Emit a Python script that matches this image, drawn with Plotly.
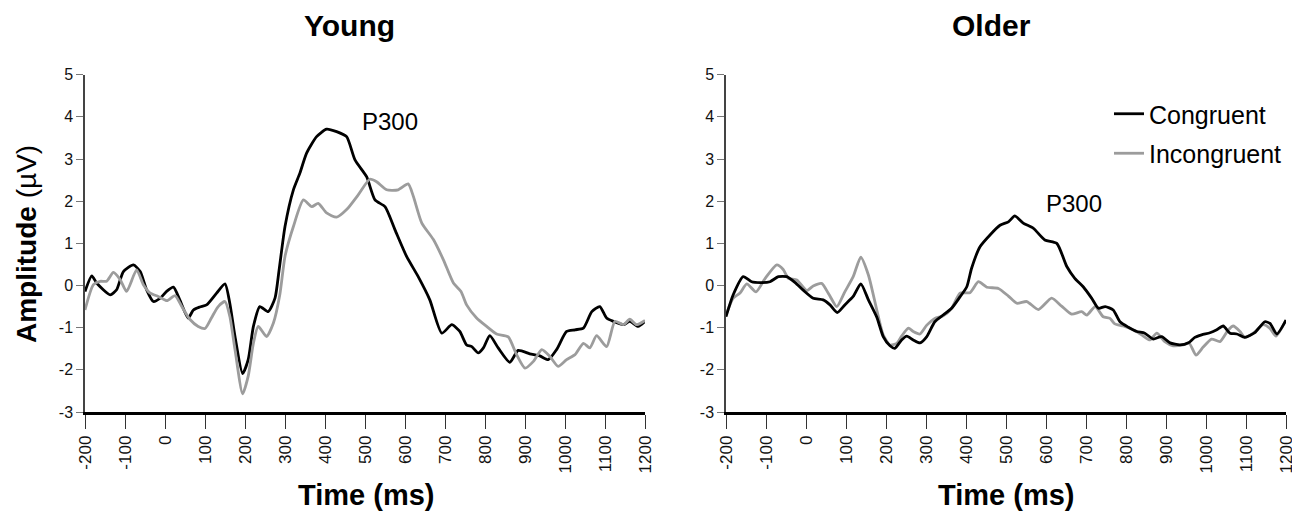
import plotly.graph_objects as go

# ERP waveforms (time in ms, amplitude in microvolts)
young_con_t = [-200, -183, -171, -137, -121, -104, -79, -62, -46, -29, -12, 4, 21, 37, 58, 71, 87,
               104, 129, 150, 162, 175, 194, 208, 221, 237, 258, 275, 285, 300, 321, 337, 354,
               379, 404, 429, 454, 475, 504, 525, 550, 575, 604, 633, 662, 692, 717, 737, 754,
               767, 783, 796, 812, 833, 862, 883, 912, 937, 958, 979, 1004, 1025, 1046, 1067,
               1087, 1104, 1121, 1146, 1162, 1183, 1200]
young_con_v = [-0.14, 0.23, 0.06, -0.22, -0.10, 0.33, 0.49, 0.33, -0.10, -0.38, -0.30, -0.14, -0.04,
               -0.34, -0.77, -0.58, -0.51, -0.46, -0.18, 0.04, -0.42, -1.21, -2.09, -1.76, -0.97,
               -0.50, -0.62, -0.30, 0.35, 1.40, 2.27, 2.66, 3.14, 3.53, 3.71, 3.65, 3.53, 2.98,
               2.58, 2.03, 1.87, 1.32, 0.69, 0.21, -0.34, -1.13, -0.93, -1.09, -1.41, -1.45, -1.60,
               -1.48, -1.19, -1.48, -1.82, -1.54, -1.62, -1.67, -1.76, -1.52, -1.09, -1.05, -1.01,
               -0.62, -0.50, -0.77, -0.85, -0.93, -0.85, -0.97, -0.85]

young_inc_t = [-200, -179, -162, -146, -129, -112, -96, -71, -54, -37, -17, 5, 25, 42, 62, 83, 100,
               116, 133, 150, 162, 175, 194, 208, 221, 233, 254, 271, 287, 300, 321, 346, 367,
               383, 404, 429, 454, 483, 512, 529, 554, 583, 608, 621, 642, 671, 696, 721, 740,
               754, 779, 804, 829, 858, 879, 900, 921, 942, 962, 983, 1004, 1025, 1046, 1062,
               1079, 1104, 1125, 1146, 1162, 1179, 1200]
young_inc_v = [-0.58, 0.02, 0.10, 0.10, 0.31, 0.14, -0.14, 0.37, 0.02, -0.18, -0.26, -0.36, -0.24,
               -0.50, -0.80, -0.97, -1.02, -0.77, -0.50, -0.38, -0.73, -1.52, -2.57, -2.15, -1.37,
               -0.97, -1.21, -0.89, -0.22, 0.69, 1.40, 2.03, 1.87, 1.95, 1.72, 1.62, 1.80, 2.15,
               2.52, 2.46, 2.27, 2.27, 2.41, 2.11, 1.48, 1.09, 0.61, 0.06, -0.14, -0.46, -0.77,
               -0.97, -1.15, -1.22, -1.64, -1.96, -1.80, -1.52, -1.68, -1.92, -1.76, -1.64, -1.37,
               -1.48, -1.19, -1.45, -0.85, -0.93, -0.80, -0.93, -0.83]

older_con_t = [-200, -182, -157, -136, -111, -90, -69, -48, -27, -7, 18, 43, 60, 78, 97, 118, 137,
               156, 177, 193, 210, 222, 239, 252, 268, 285, 302, 322, 343, 364, 385, 402, 414,
               435, 460, 485, 506, 522, 543, 568, 597, 627, 652, 672, 693, 714, 731, 748, 768,
               785, 806, 827, 847, 868, 889, 910, 935, 956, 972, 989, 1010, 1027, 1043, 1060,
               1077, 1097, 1122, 1147, 1160, 1177, 1200]
older_con_v = [-0.74, -0.22, 0.21, 0.09, 0.07, 0.09, 0.21, 0.21, 0.07, -0.11, -0.30, -0.34, -0.46,
               -0.64, -0.46, -0.26, 0.04, -0.34, -0.75, -1.21, -1.43, -1.49, -1.29, -1.20, -1.29,
               -1.36, -1.21, -0.86, -0.70, -0.54, -0.27, -0.03, 0.41, 0.92, 1.20, 1.43, 1.51, 1.65,
               1.48, 1.36, 1.08, 1.00, 0.45, 0.17, -0.03, -0.30, -0.54, -0.50, -0.58, -0.86, -0.99,
               -1.09, -1.13, -1.27, -1.21, -1.36, -1.41, -1.36, -1.23, -1.17, -1.12, -1.05, -0.96,
               -1.13, -1.15, -1.23, -1.12, -0.86, -0.90, -1.15, -0.82]

older_inc_t = [-200, -182, -165, -148, -125, -102, -73, -57, -44, -23, 2, 18, 39, 58, 77, 97, 118,
               137, 156, 177, 193, 210, 227, 239, 256, 268, 285, 302, 322, 343, 364, 385, 410,
               431, 452, 481, 506, 527, 552, 581, 614, 639, 664, 689, 702, 723, 743, 760, 772,
               793, 818, 839, 860, 877, 897, 918, 943, 958, 975, 993, 1014, 1035, 1056, 1068,
               1085, 1097, 1118, 1143, 1160, 1175, 1200]
older_inc_v = [-0.70, -0.30, -0.18, 0.04, -0.15, 0.17, 0.49, 0.38, 0.17, 0.13, -0.12, -0.01, 0.05,
               -0.22, -0.50, -0.15, 0.21, 0.67, 0.25, -0.58, -1.17, -1.41, -1.37, -1.20, -1.01,
               -1.09, -1.15, -0.94, -0.78, -0.72, -0.54, -0.18, -0.17, 0.09, -0.04, -0.07, -0.25,
               -0.42, -0.38, -0.57, -0.30, -0.49, -0.68, -0.62, -0.70, -0.50, -0.74, -0.78, -0.91,
               -0.96, -1.05, -1.17, -1.29, -1.13, -1.33, -1.43, -1.41, -1.37, -1.65, -1.46, -1.27,
               -1.33, -1.05, -0.96, -1.09, -1.23, -1.13, -0.93, -1.02, -1.20, -0.82]

x_ticks = list(range(-200, 1201, 100))
y_ticks = list(range(-3, 6))

black = "#000000"
grey = "#9c9c9c"
font = "Liberation Sans, Arial, sans-serif"

# the page has an 8px body margin, so the figure is a bit smaller than the window
W, H, OFF = 1292, 513, 8


def px(x):
    return (x - OFF) / W


def py(y):
    return 1 - (y - OFF) / H


def label(text, x, y, size, xref="paper", yref="paper", angle=0):
    return dict(text=text, x=x, y=y, xref=xref, yref=yref, textangle=angle,
                xanchor="center", yanchor="middle", showarrow=False, borderpad=0,
                font=dict(family=font, size=size, color=black))


fig = go.Figure()

fig.add_trace(go.Scatter(x=young_con_t, y=young_con_v, mode="lines", name="Congruent",
                         line=dict(color=black, width=2.8, shape="spline", smoothing=0.6),
                         legendgroup="con", showlegend=True, xaxis="x", yaxis="y"))
fig.add_trace(go.Scatter(x=young_inc_t, y=young_inc_v, mode="lines", name="Incongruent",
                         line=dict(color=grey, width=2.8, shape="spline", smoothing=0.6),
                         legendgroup="inc", showlegend=True, xaxis="x", yaxis="y"))
fig.add_trace(go.Scatter(x=older_inc_t, y=older_inc_v, mode="lines", name="Incongruent",
                         line=dict(color=grey, width=2.8, shape="spline", smoothing=0.6),
                         legendgroup="inc", showlegend=False, xaxis="x2", yaxis="y2"))
fig.add_trace(go.Scatter(x=older_con_t, y=older_con_v, mode="lines", name="Congruent",
                         line=dict(color=black, width=2.8, shape="spline", smoothing=0.6),
                         legendgroup="con", showlegend=False, xaxis="x2", yaxis="y2"))

xax = dict(range=[-200, 1200], tickvals=x_ticks, ticktext=[str(v) for v in x_ticks],
           tickangle=-90, ticks="outside", ticklen=14, tickwidth=1.3, tickcolor="#333",
           showline=True, linewidth=2.6, linecolor=black, showgrid=False, zeroline=False,
           automargin=False, tickfont=dict(family=font, size=17, color="#111"), fixedrange=True)
yax = dict(range=[-3, 5], tickvals=y_ticks, ticktext=[str(v) for v in y_ticks],
           ticks="outside", ticklen=7, tickwidth=1, tickcolor="#777", showline=True,
           linewidth=1.5, linecolor="#444", showgrid=False, zeroline=False, automargin=False,
           tickfont=dict(family=font, size=16, color="#111"), fixedrange=True)

fig.update_layout(
    template="none",
    width=W, height=H,
    margin=dict(l=0, r=0, t=0, b=0, autoexpand=False),
    paper_bgcolor="white", plot_bgcolor="white",
    font=dict(family=font, color=black),
    xaxis=dict(xax, domain=[px(85), px(645)], anchor="y"),
    yaxis=dict(yax, domain=[py(412), py(74.7)], anchor="x"),
    xaxis2=dict(xax, domain=[px(726), px(1286)], anchor="y2"),
    yaxis2=dict(yax, domain=[py(412), py(74.7)], anchor="x2"),
    legend=dict(x=px(1109), y=py(91), xanchor="left", yanchor="top",
                font=dict(family=font, size=25, color=black), tracegroupgap=4,
                bgcolor="rgba(0,0,0,0)"),
    annotations=[
        label("<b>Young</b>", px(349), py(25), 30),
        label("<b>Older</b>", px(991), py(25), 30),
        label("<b>Amplitude</b> (µV)", px(26), py(244), 28, angle=-90),
        label("<b>Time (ms)</b>", px(366), py(495), 29),
        label("<b>Time (ms)</b>", px(1006), py(495), 29),
        label("P300", 562, 3.88, 24, xref="x", yref="y"),
        label("P300", 670, 1.95, 24, xref="x2", yref="y2"),
    ],
)

fig.write_html("out.html")
